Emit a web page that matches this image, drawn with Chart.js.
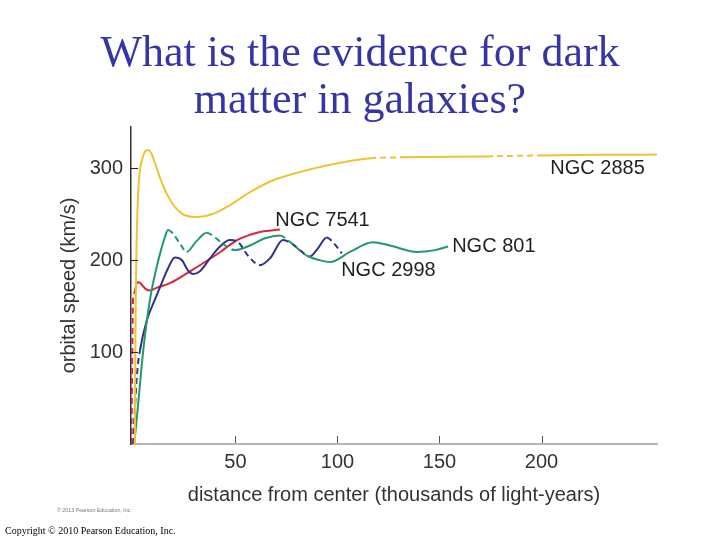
<!DOCTYPE html>
<html><head><meta charset="utf-8">
<script src="https://cdn.jsdelivr.net/npm/chart.js@4"></script>
<style>
html,body{margin:0;padding:0;background:#fff;width:720px;height:540px;overflow:hidden;}
#wrap{position:relative;width:720px;height:540px;}
canvas{position:absolute;left:0;top:0;}
#title{position:absolute;left:0;top:28px;width:720px;text-align:center;font-family:"Liberation Serif","Times New Roman",serif;font-size:44px;line-height:47px;color:#3535a3;}
#copy{position:absolute;left:5px;top:525px;font-family:"Liberation Serif","Times New Roman",serif;font-size:10px;line-height:12px;color:#000;white-space:nowrap;}
#copy2{position:absolute;left:57px;top:506px;font-family:"Liberation Sans",Arial,sans-serif;font-size:5.3px;line-height:8px;color:#777;white-space:nowrap;}
</style></head>
<body><div id="wrap"><canvas id="c" width="720" height="540"></canvas>
<div id="title">What is the evidence for dark<br>matter in galaxies?</div>
<div id="copy2">© 2013 Pearson Education, Inc.</div>
<div id="copy">Copyright © 2010 Pearson Education, Inc.</div>
</div>
<script>
// ---- data (distance in thousands of light-years, speed in km/s) ----
const ngc2885X = [0.7,1.0,1.7,2.7,4.2,5.6,7.0,8.6,10.5,13.0,16.4,20.3,25.2,31.6,38.5,47.3,57.1,68.4,81.6,96.3,116.0,130.6,173.3,197.8,228.7,256.6];
const ngc2885Y = [0,124,233,287,309,318,320,317,306,290,272,258,249,247,250,260,274,287,296,304,311,312,313,314,314.7,315];

const ngc7541X = [-1.0,-0.7,-0.2,0.4,1.6,2.7,4.2,6.1,8.1,11.0,17.9,28.5,34.1,42.4,50.6,57.1,62.0,71.8];
const ngc7541Y = [0,70,157,164,175,176,173,168.5,167,169.6,175,189,196.7,208.7,221.7,227.7,230.8,233.4];

const ngc801X = [0.4,2.5,4.8,8.1,11.0,13.5,15.4,16.9,19.4,22.8,26.1,30.6,35.9,39.9,44.9,49.8,57.1,64.5,71.8,76.7,85.0,91.4,96.3,106.1,117.4,125.7,138.8,147.8,154.2];
const ngc801Y = [0,48,102,157,189,211,225,233,229,218,209,220,230,225,216,211,216,224,227,220,205,200,198,209,219.6,216,209,211,215];

const ngc2998X = [-0.2,0.7,1.7,3.2,6.6,10.5,14.0,16.9,20.3,23.8,26.7,29.3,32.6,37.5,42.4,47.3,51.2,56.1,62.0,66.9,73.3,77.7,81.6,86.5,90.4,94.7,97.8,102.1];
const ngc2998Y = [0,37,75,102,135,157,176,191,203,200,189,185,188,202,215,222,220,205,194.6,202,222,218,211,204,213,224.7,219.6,207.6];

const xTickValues = [50,100,150,200];
const yTickValues = [100,200,300];

const labelText = ['NGC 2885','NGC 7541','NGC 801','NGC 2998'];
const labelX = [204.3,69.5,156.2,101.8];
const labelY = [300,243.5,215.2,189];

// dashed stretches of each curve (x ranges)
const dash2885 = [[116.0,130.6],[173.3,197.8]];
const dash7541 = [[-1.0,0.4]];
const dash801 = [[16.9,26.1],[35.9,49.8],[71.8,85.0]];
const dash2998 = [[-0.2,3.2],[47.3,62.0],[73.3,86.5],[94.7,102.1]];

function pts(xs, ys){ return xs.map((x,i)=>({x:x, y:ys[i]})); }
function dashFn(ranges){
  return ctx => {
    const a = ctx.p0.parsed.x, b = ctx.p1.parsed.x;
    for (const r of ranges){ if (a >= r[0]-1e-6 && b <= r[1]+1e-6) return [6,4]; }
    return undefined;
  };
}
function ds(label, xs, ys, color, ranges){
  return {label, data: pts(xs,ys), borderColor: color, borderWidth: 2, pointRadius: 0,
    cubicInterpolationMode: 'monotone', fill: false, segment: {borderDash: dashFn(ranges)}};
}

const FONT = '"Liberation Sans", Arial, Helvetica, sans-serif';

const extras = {
  id: 'extras',
  afterDatasetsDraw(chart){
    const {ctx, scales:{x, y}, chartArea} = chart;
    ctx.save();
    ctx.lineWidth = 1;
    ctx.strokeStyle = '#555';
    xTickValues.forEach(v => {
      const px = Math.round(x.getPixelForValue(v)) + 0.5;
      ctx.beginPath(); ctx.moveTo(px, chartArea.bottom - 1); ctx.lineTo(px, chartArea.bottom - 8); ctx.stroke();
    });
    ctx.strokeStyle = '#222';
    yTickValues.forEach(v => {
      const py = Math.round(y.getPixelForValue(v)) + 0.5;
      ctx.beginPath(); ctx.moveTo(chartArea.left, py); ctx.lineTo(chartArea.left + 7, py); ctx.stroke();
    });
    ctx.fillStyle = '#231f20';
    ctx.font = '20px ' + FONT;
    ctx.textBaseline = 'middle';
    ctx.textAlign = 'left';
    labelText.forEach((t,i) => {
      ctx.fillText(t, x.getPixelForValue(labelX[i]), y.getPixelForValue(labelY[i]));
    });
    ctx.restore();
  }
};

new Chart(document.getElementById('c'), {
  type: 'line',
  data: {
    datasets: [
      ds(labelText[0], ngc2885X, ngc2885Y, '#f2c234', dash2885),
      ds(labelText[2], ngc801X, ngc801Y, '#22996b', dash801),
      ds(labelText[3], ngc2998X, ngc2998Y, '#2f3287', dash2998),
      ds(labelText[1], ngc7541X, ngc7541Y, '#d6283a', dash7541)
    ]
  },
  options: {
    responsive: false,
    animation: false,
    devicePixelRatio: 1,
    layout: {padding: {top: 127, right: 63, bottom: 0, left: 0}},
    plugins: {legend: {display: false}, tooltip: {enabled: false}, title: {display: false}},
    scales: {
      x: {
        type: 'linear', min: -1.2, max: 256.6,
        afterBuildTicks: s => { s.ticks = xTickValues.map(v => ({value: v})); },
        afterFit: s => { s.height = 96; },
        grid: {drawOnChartArea: false, drawTicks: false},
        border: {color: '#b5b5b5', width: 2},
        ticks: {font: {family: FONT, size: 20}, color: '#333', padding: 6, maxRotation: 0, autoSkip: false},
        title: {display: true, text: 'distance from center (thousands of light-years)',
          font: {family: FONT, size: 20}, color: '#333', padding: {top: 0, bottom: 33}}
      },
      y: {
        type: 'linear', min: 0, max: 345,
        afterBuildTicks: s => { s.ticks = yTickValues.map(v => ({value: v})); },
        afterFit: s => { s.width = 131; },
        grid: {drawOnChartArea: false, drawTicks: false},
        border: {color: '#333', width: 1.5},
        ticks: {font: {family: FONT, size: 20}, color: '#333', padding: 8, autoSkip: false},
        title: {display: true, text: 'orbital speed (km/s)',
          font: {family: FONT, size: 20}, color: '#333', padding: {top: 57, bottom: 0}}
      }
    }
  },
  plugins: [extras]
});
</script>
</body></html>
